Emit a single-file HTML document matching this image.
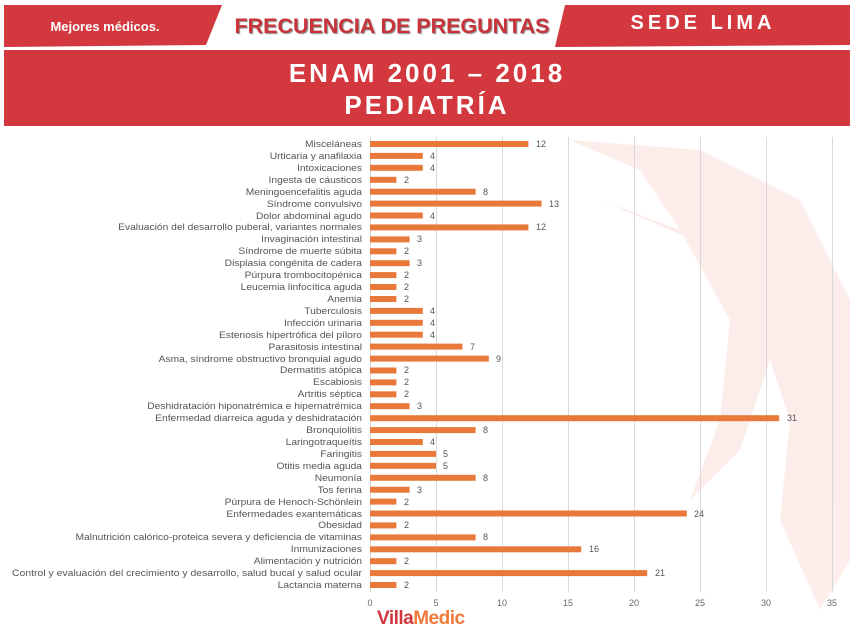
<!DOCTYPE html>
<html><head><meta charset="utf-8"><style>
html,body{margin:0;padding:0;background:#fff;}
body{width:863px;height:639px;overflow:hidden;font-family:"Liberation Sans",sans-serif;}
</style></head><body>
<svg width="863" height="639" viewBox="0 0 863 639" xmlns="http://www.w3.org/2000/svg" font-family="Liberation Sans, sans-serif">
<!-- decorative faint phoenix -->
<g opacity="0.1" fill="#e8503a">
<polygon points="570,140 640,170 700,260 760,330 790,420 780,520 820,610 850,560 850,300 800,200 700,150"/>
<polygon points="600,200 680,230 730,320 720,420 690,500 740,450 770,360 740,260"/>
</g>
<!-- header -->
<polygon points="4,5 222,5 206,45 4,47" fill="#d2383d"/>
<text x="105" y="31" font-size="13" fill="#fff" text-anchor="middle" font-weight="bold">Mejores médicos.</text>
<text x="392" y="33" font-size="21" fill="#c8343a" text-anchor="middle" font-weight="bold" textLength="315" lengthAdjust="spacingAndGlyphs" style="text-shadow:1px 1px 1px #888">FRECUENCIA DE PREGUNTAS</text>
<polygon points="565,5 850,5 850,45 555,47" fill="#d2383d"/>
<text x="703" y="29" font-size="20" fill="#fff" text-anchor="middle" font-weight="bold" letter-spacing="4">SEDE LIMA</text>
<rect x="4" y="50" width="846" height="76" fill="#d2383d"/>
<text x="427" y="82" font-size="26" fill="#fff" text-anchor="middle" font-weight="bold" letter-spacing="3">ENAM 2001 – 2018</text>
<text x="427" y="114" font-size="26" fill="#fff" text-anchor="middle" font-weight="bold" letter-spacing="3">PEDIATRÍA</text>
<!-- grid -->
<g stroke="#d9d9d9" stroke-width="1">
<line x1="370.5" y1="137" x2="370.5" y2="592"/><line x1="436.5" y1="137" x2="436.5" y2="592"/><line x1="502.5" y1="137" x2="502.5" y2="592"/><line x1="568.5" y1="137" x2="568.5" y2="592"/><line x1="634.5" y1="137" x2="634.5" y2="592"/><line x1="700.5" y1="137" x2="700.5" y2="592"/><line x1="766.5" y1="137" x2="766.5" y2="592"/><line x1="832.5" y1="137" x2="832.5" y2="592"/>
</g>
<g font-size="9" fill="#666" text-anchor="middle">
<text x="370" y="606">0</text><text x="436" y="606">5</text><text x="502" y="606">10</text><text x="568" y="606">15</text><text x="634" y="606">20</text><text x="700" y="606">25</text><text x="766" y="606">30</text><text x="832" y="606">35</text>
</g>
<!-- bars -->
<g fill="#e9793a">
<rect x="370" y="141" width="158.4" height="6"/>
<rect x="370" y="152.9" width="52.8" height="6"/>
<rect x="370" y="164.8" width="52.8" height="6"/>
<rect x="370" y="176.8" width="26.4" height="6"/>
<rect x="370" y="188.7" width="105.6" height="6"/>
<rect x="370" y="200.6" width="171.6" height="6"/>
<rect x="370" y="212.5" width="52.8" height="6"/>
<rect x="370" y="224.4" width="158.4" height="6"/>
<rect x="370" y="236.4" width="39.6" height="6"/>
<rect x="370" y="248.3" width="26.4" height="6"/>
<rect x="370" y="260.2" width="39.6" height="6"/>
<rect x="370" y="272.1" width="26.4" height="6"/>
<rect x="370" y="284" width="26.4" height="6"/>
<rect x="370" y="296" width="26.4" height="6"/>
<rect x="370" y="307.9" width="52.8" height="6"/>
<rect x="370" y="319.8" width="52.8" height="6"/>
<rect x="370" y="331.7" width="52.8" height="6"/>
<rect x="370" y="343.6" width="92.4" height="6"/>
<rect x="370" y="355.6" width="118.8" height="6"/>
<rect x="370" y="367.5" width="26.4" height="6"/>
<rect x="370" y="379.4" width="26.4" height="6"/>
<rect x="370" y="391.3" width="26.4" height="6"/>
<rect x="370" y="403.2" width="39.6" height="6"/>
<rect x="370" y="415.2" width="409.2" height="6"/>
<rect x="370" y="427.1" width="105.6" height="6"/>
<rect x="370" y="439" width="52.8" height="6"/>
<rect x="370" y="450.9" width="66" height="6"/>
<rect x="370" y="462.8" width="66" height="6"/>
<rect x="370" y="474.8" width="105.6" height="6"/>
<rect x="370" y="486.7" width="39.6" height="6"/>
<rect x="370" y="498.6" width="26.4" height="6"/>
<rect x="370" y="510.5" width="316.8" height="6"/>
<rect x="370" y="522.4" width="26.4" height="6"/>
<rect x="370" y="534.4" width="105.6" height="6"/>
<rect x="370" y="546.3" width="211.2" height="6"/>
<rect x="370" y="558.2" width="26.4" height="6"/>
<rect x="370" y="570.1" width="277.2" height="6"/>
<rect x="370" y="582" width="26.4" height="6"/>
</g>
<!-- values -->
<g font-size="9" fill="#555">
<text x="536" y="147">12</text><text x="430" y="159">4</text><text x="430" y="171">4</text><text x="404" y="183">2</text><text x="483" y="195">8</text><text x="549" y="207">13</text><text x="430" y="219">4</text><text x="536" y="230">12</text><text x="417" y="242">3</text><text x="404" y="254">2</text><text x="417" y="266">3</text><text x="404" y="278">2</text><text x="404" y="290">2</text><text x="404" y="302">2</text><text x="430" y="314">4</text><text x="430" y="326">4</text><text x="430" y="338">4</text><text x="470" y="350">7</text><text x="496" y="362">9</text><text x="404" y="373">2</text><text x="404" y="385">2</text><text x="404" y="397">2</text><text x="417" y="409">3</text><text x="787" y="421">31</text><text x="483" y="433">8</text><text x="430" y="445">4</text><text x="443" y="457">5</text><text x="443" y="469">5</text><text x="483" y="481">8</text><text x="417" y="493">3</text><text x="404" y="505">2</text><text x="694" y="517">24</text><text x="404" y="528">2</text><text x="483" y="540">8</text><text x="589" y="552">16</text><text x="404" y="564">2</text><text x="655" y="576">21</text><text x="404" y="588">2</text>
</g>
<!-- labels -->
<g font-size="9" fill="#555" text-anchor="end" transform="translate(362,0) scale(1.14,1)">
<text x="0" y="147">Misceláneas</text>
<text x="0" y="159">Urticaria y anafilaxia</text>
<text x="0" y="171">Intoxicaciones</text>
<text x="0" y="183">Ingesta de cáusticos</text>
<text x="0" y="195">Meningoencefalitis aguda</text>
<text x="0" y="207">Síndrome convulsivo</text>
<text x="0" y="219">Dolor abdominal agudo</text>
<text x="0" y="230">Evaluación del desarrollo puberal, variantes normales</text>
<text x="0" y="242">Invaginación intestinal</text>
<text x="0" y="254">Síndrome de muerte súbita</text>
<text x="0" y="266">Displasia congénita de cadera</text>
<text x="0" y="278">Púrpura trombocitopénica</text>
<text x="0" y="290">Leucemia linfocítica aguda</text>
<text x="0" y="302">Anemia</text>
<text x="0" y="314">Tuberculosis</text>
<text x="0" y="326">Infección urinaria</text>
<text x="0" y="338">Estenosis hipertrófica del píloro</text>
<text x="0" y="350">Parasitosis intestinal</text>
<text x="0" y="362">Asma, síndrome obstructivo bronquial agudo</text>
<text x="0" y="373">Dermatitis atópica</text>
<text x="0" y="385">Escabiosis</text>
<text x="0" y="397">Artritis séptica</text>
<text x="0" y="409">Deshidratación hiponatrémica e hipernatrémica</text>
<text x="0" y="421">Enfermedad diarreica aguda y deshidratación</text>
<text x="0" y="433">Bronquiolitis</text>
<text x="0" y="445">Laringotraqueítis</text>
<text x="0" y="457">Faringitis</text>
<text x="0" y="469">Otitis media aguda</text>
<text x="0" y="481">Neumonía</text>
<text x="0" y="493">Tos ferina</text>
<text x="0" y="505">Púrpura de Henoch-Schönlein</text>
<text x="0" y="517">Enfermedades exantemáticas</text>
<text x="0" y="528">Obesidad</text>
<text x="0" y="540">Malnutrición calórico-proteica severa y deficiencia de vitaminas</text>
<text x="0" y="552">Inmunizaciones</text>
<text x="0" y="564">Alimentación y nutrición</text>
<text x="0" y="576" textLength="307" lengthAdjust="spacingAndGlyphs">Control y evaluación del crecimiento y desarrollo, salud bucal y salud ocular</text>
<text x="0" y="588">Lactancia materna</text>
</g>
<!-- logo -->
<text x="377" y="624" font-size="19" font-weight="bold" fill="#d2383d" letter-spacing="-0.5">Villa<tspan fill="#ef7a3a">Medic</tspan></text>
</svg>
</body></html>
